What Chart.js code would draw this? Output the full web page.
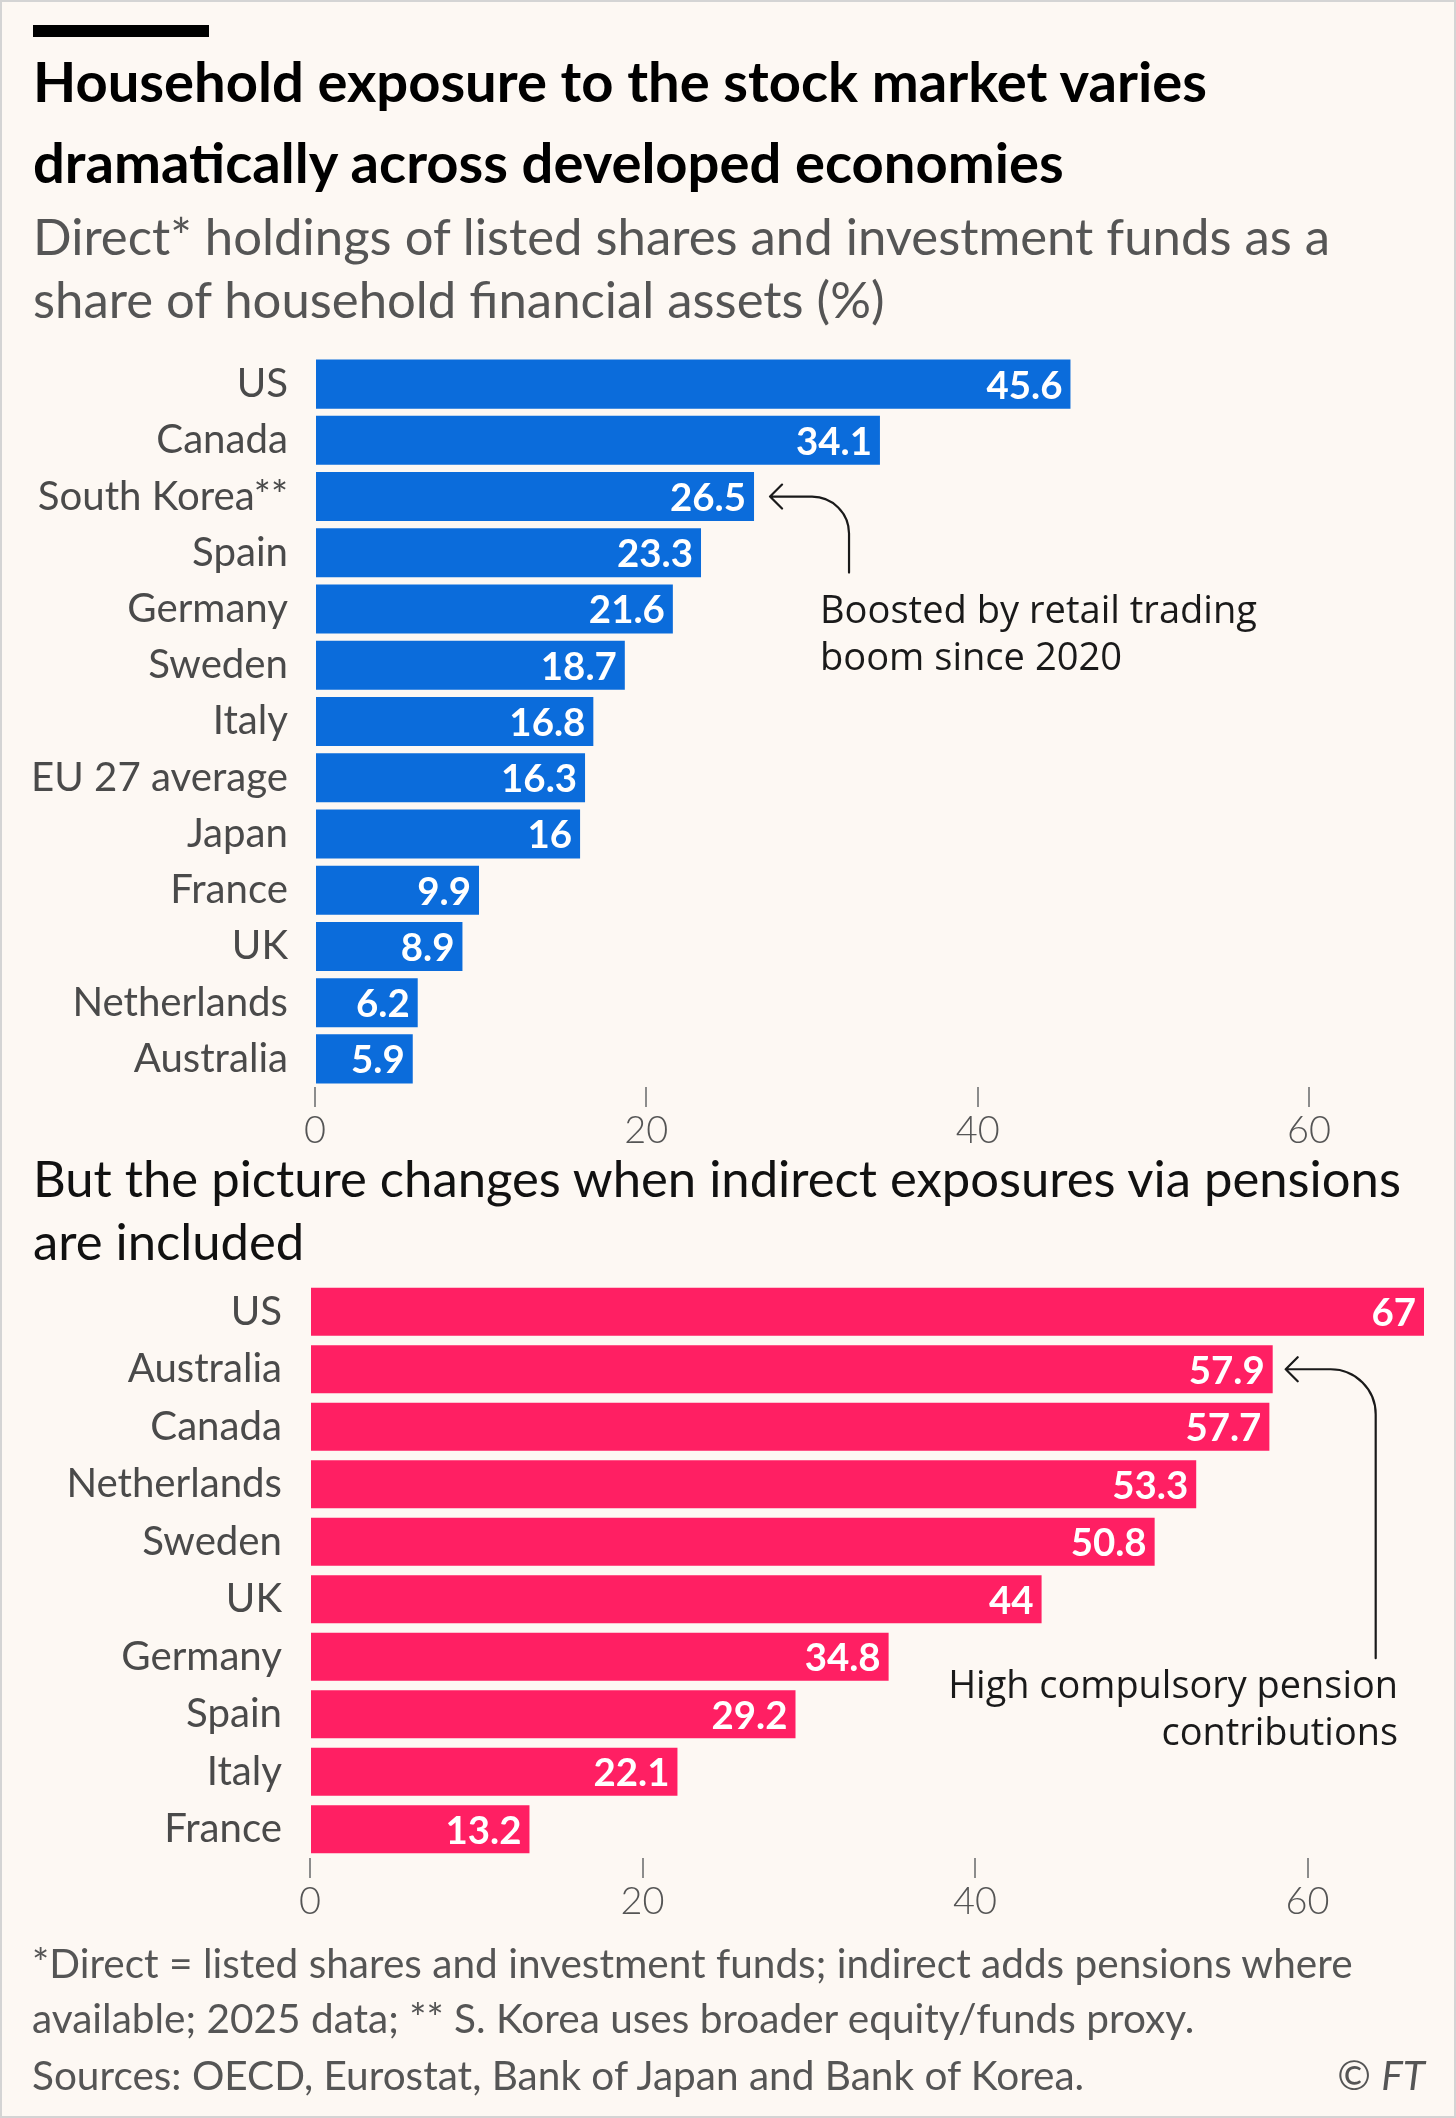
<!DOCTYPE html>
<html><head><meta charset="utf-8">
<script src="https://cdn.jsdelivr.net/npm/chart.js@4.4.1/dist/chart.umd.min.js"></script>
<style>
html,body{margin:0;padding:0;background:#fdf8f3;}
#page{position:relative;width:1456px;height:2118px;background:#fdf8f3;overflow:hidden;}
#frame{position:absolute;left:0;top:0;width:1456px;height:2118px;box-sizing:border-box;border:2px solid #d4d4d4;pointer-events:none;z-index:5}
#c1{position:absolute;left:0;top:350px;}
#c2{position:absolute;left:0;top:1277px;}
#ov{position:absolute;left:0;top:0;z-index:3}
#topbar{position:absolute;left:33px;top:25px;width:176px;height:12px;background:#000}
</style></head>
<body><div id="page">
<div id="topbar"></div>
<canvas id="c1" width="1456" height="810"></canvas>
<canvas id="c2" width="1456" height="654"></canvas>
<svg id="ov" width="1456" height="2118" xmlns="http://www.w3.org/2000/svg"></svg>
<div id="frame"></div>
</div>
<script>
// ---- data ----
const directCountries = ['US','Canada','South Korea**','Spain','Germany','Sweden','Italy','EU 27 average','Japan','France','UK','Netherlands','Australia'];
const directValues = [45.6,34.1,26.5,23.3,21.6,18.7,16.8,16.3,16,9.9,8.9,6.2,5.9];
const totalCountries = ['US','Australia','Canada','Netherlands','Sweden','UK','Germany','Spain','Italy','France'];
const totalValues = [67,57.9,57.7,53.3,50.8,44,34.8,29.2,22.1,13.2];
const xTicks = [0,20,40,60];
const titleLines = ['Household exposure to the stock market varies','dramatically across developed economies'];
const subtitleLines = ['Direct* holdings of listed shares and investment funds as a','share of household financial assets (%)'];
const section2Lines = ['But the picture changes when indirect exposures via pensions','are included'];
const footerLines = ['*Direct = listed shares and investment funds; indirect adds pensions where','available; 2025 data; ** S. Korea uses broader equity/funds proxy.','Sources: OECD, Eurostat, Bank of Japan and Bank of Korea.'];
const note1Lines = ['Boosted by retail trading','boom since 2020'];
const note2Lines = ['High compulsory pension','contributions'];

// ---- font fitting ----
const mctx = document.createElement('canvas').getContext('2d');
function fitPx(text, weight, family, target){ mctx.font = weight+' 100px '+family; return 100*target/mctx.measureText(text).width; }
const yLabelSize = fitPx('EU 27 average', 400, 'Lato', 257);
const valueSize = fitPx('45.6', 700, 'Lato', 76);
const tickSize = fitPx('20', 300, 'Lato', 44);

const valuePlugin = {
  id:'valueLabels',
  afterDatasetsDraw(chart){
    const ctx = chart.ctx, meta = chart.getDatasetMeta(0), vals = chart.data.datasets[0].data;
    ctx.save();
    ctx.font = '700 '+valueSize+'px Lato';
    ctx.fillStyle = '#ffffff'; ctx.textAlign = 'right'; ctx.textBaseline = 'middle';
    meta.data.forEach((bar,i)=>{ ctx.fillText(String(vals[i]), bar.x - 8, bar.y + 2); });
    ctx.restore();
  }
};

function makeChart(id, labels, values, color, barPct, yWidth, padRight, yPad){
  return new Chart(document.getElementById(id), {
    type:'bar',
    data:{labels:labels, datasets:[{data:values, backgroundColor:color, borderWidth:0, barPercentage:barPct, categoryPercentage:1}]},
    options:{
      indexAxis:'y', responsive:false, animation:false, events:[],
      layout:{padding:{top:6,right:padRight,bottom:0,left:0}},
      plugins:{legend:{display:false},tooltip:{enabled:false}},
      scales:{
        x:{type:'linear', min:0, max:67,
           afterBuildTicks:s=>{ s.ticks = xTicks.map(v=>({value:v})); },
           grid:{drawOnChartArea:false, drawTicks:true, tickLength:20, color:'#8c8c8c', lineWidth:2},
           border:{display:false},
           ticks:{font:{family:'Lato',size:tickSize,weight:300}, color:'#555555', padding:1, maxRotation:0, includeBounds:false},
           afterFit:s=>{ s.height = 73; }},
        y:{grid:{display:false, drawTicks:false}, border:{display:false},
           ticks:{font:{family:'Lato',size:yLabelSize,weight:400}, color:'#4a4a4a', padding:yPad, autoSkip:false},
           afterFit:s=>{ s.width = yWidth; s.paddingTop = 0; s.paddingBottom = 0; }}
      }
    },
    plugins:[valuePlugin]
  });
}

const chart1 = makeChart('c1', directCountries, directValues, '#0b6cdb', 0.872, 315, 31, 27);
const chart2 = makeChart('c2', totalCountries, totalValues, '#ff1f63', 0.835, 310, 32, 28);

// ---- overlay text & annotations ----
const svgNS = 'http://www.w3.org/2000/svg';
const ov = document.getElementById('ov');
function addText(str, x, y, attrs){
  const t = document.createElementNS(svgNS,'text');
  t.setAttribute('x',x); t.setAttribute('y',y);
  for (const k in attrs) t.setAttribute(k, attrs[k]);
  t.textContent = str; ov.appendChild(t); return t;
}
function textBlock(lines, x, baselines, family, weight, color, fitWidth, anchor){
  const els = lines.map((l,i)=>addText(l, x, baselines[i], {'font-family':family,'font-weight':weight,'fill':color,'font-size':100,'text-anchor':anchor||'start'}));
  const w = els[0].getComputedTextLength();
  const size = 100*fitWidth/w;
  els.forEach(e=>e.setAttribute('font-size', size.toFixed(2)));
  return size;
}
textBlock(titleLines, 33, [102,183], 'Lato', 700, '#000000', 1174);
textBlock(subtitleLines, 33, [255,318], 'Lato', 400, '#555555', 1297);
textBlock(section2Lines, 33, [1197,1260], 'Lato', 400, '#111111', 1368);
const footSize = textBlock(footerLines, 32, [1978,2033,2090], 'Lato', 400, '#555555', 1321);
const ft = addText('', 1425, 2090, {'font-family':'Lato','font-weight':400,'fill':'#555555','font-size':footSize.toFixed(2),'text-anchor':'end'});
const ts1 = document.createElementNS(svgNS,'tspan'); ts1.textContent = '\u00A9 '; ft.appendChild(ts1);
const ts2 = document.createElementNS(svgNS,'tspan'); ts2.setAttribute('font-style','italic'); ts2.textContent = 'FT'; ft.appendChild(ts2);

textBlock(note1Lines, 820, [623,670], 'Open Sans', 400, '#1a1a1a', 437);
textBlock(note2Lines, 1398, [1698,1745], 'Open Sans', 400, '#1a1a1a', 450, 'end');

function arrow(chart, idx, gap, run, r, drop){
  const bar = chart.getDatasetMeta(0).data[idx];
  const c = chart.canvas.offsetTop;
  const tipX = bar.x + gap, y = bar.y + c;
  const vx = tipX + run;
  const p = document.createElementNS(svgNS,'path');
  p.setAttribute('d', 'M '+tipX+' '+y+' H '+(vx-r)+' A '+r+' '+r+' 0 0 1 '+vx+' '+(y+r)+' V '+(y+drop)+
    ' M '+(tipX+12)+' '+(y-12)+' L '+tipX+' '+y+' L '+(tipX+12)+' '+(y+12));
  p.setAttribute('fill','none'); p.setAttribute('stroke','#1a1a1a'); p.setAttribute('stroke-width','2.2');
  p.setAttribute('stroke-linecap','round'); p.setAttribute('stroke-linejoin','round');
  ov.appendChild(p);
}
arrow(chart1, 2, 16, 79, 37, 76);
arrow(chart2, 1, 13, 90, 45, 289);
</script>
</body></html>
